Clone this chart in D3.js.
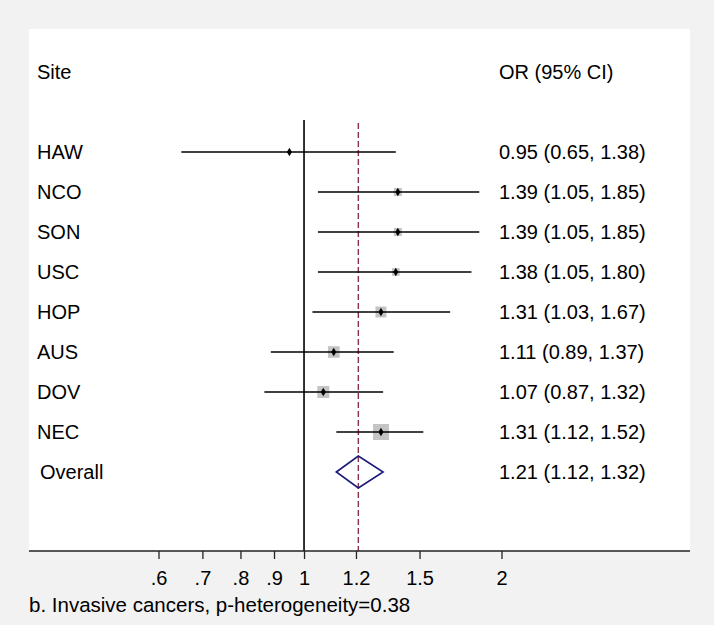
<!DOCTYPE html>
<head>
<meta charset="utf-8">
<style>
body { margin: 0; background: #f2f2f2; }
text { font-family: "Liberation Sans", Arial, sans-serif; font-size: 20px; fill: #000; }
.ci line { stroke: #000; stroke-width: 1.6px; }
.axis .tick line { stroke: #222; stroke-width: 1.3px; }
</style>
</head>
<body>
<div id="mainDiv"></div>
<script src="https://d3js.org/d3.v7.min.js"></script>
<script>

var width = 714;
var height = 625;

// study rows
var sites = ["HAW", "NCO", "SON", "USC", "HOP", "AUS", "DOV", "NEC"];
var orValues = [0.95, 1.39, 1.39, 1.38, 1.31, 1.11, 1.07, 1.31];
var lowerCI = [0.65, 1.05, 1.05, 1.05, 1.03, 0.89, 0.87, 1.12];
var upperCI = [1.38, 1.85, 1.85, 1.80, 1.67, 1.37, 1.32, 1.52];
var weights = [1.5, 7.5, 7.5, 7, 14, 16, 17, 30];   // % weight, drives box size

var overallLabel = "Overall";
var overallOR = 1.21;
var overallLower = 1.12;
var overallUpper = 1.32;

var tickValues = [0.6, 0.7, 0.8, 0.9, 1, 1.2, 1.5, 2];
var tickLabels = [".6", ".7", ".8", ".9", "1", "1.2", "1.5", "2"];

var caption = "b. Invasive cancers, p-heterogeneity=0.38";

var rows = sites.map(function(s, i) {
  return { site: s, or: orValues[i], lo: lowerCI[i], hi: upperCI[i], w: weights[i] };
});

function fmt(v) { return v.toFixed(2); }

var svg = d3.select("#mainDiv").append("svg")
    .attr("width", width)
    .attr("height", height);

// plot panel
var panel = { left: 29, right: 690, top: 29, bottom: 551 };

svg.append("rect")
    .attr("x", panel.left)
    .attr("y", panel.top)
    .attr("width", panel.right - panel.left)
    .attr("height", panel.bottom - panel.top)
    .attr("fill", "#fff");

var x = d3.scaleLog()
    .domain([0.6, 2])
    .range([158.5, 501.5]);

var y = d3.scalePoint()
    .domain(sites.concat([overallLabel]))
    .range([152, 472]);

var size = d3.scaleSqrt()
    .domain([0, 30])
    .range([0, 16]);

var lineTop = 120;

// null line at OR = 1
svg.append("line")
    .attr("x1", x(1)).attr("x2", x(1))
    .attr("y1", lineTop).attr("y2", panel.bottom)
    .attr("stroke", "#000")
    .attr("stroke-width", 1.6);

// overall estimate line
svg.append("line")
    .attr("x1", x(overallOR)).attr("x2", x(overallOR))
    .attr("y1", lineTop + 3).attr("y2", panel.bottom)
    .attr("stroke", "#8b3048")
    .attr("stroke-width", 1.4)
    .attr("stroke-dasharray", "6,3");

// weight boxes
svg.append("g").selectAll("rect")
    .data(rows)
    .enter().append("rect")
    .attr("x", function(d) { return x(d.or) - size(d.w) / 2; })
    .attr("y", function(d) { return y(d.site) - size(d.w) / 2; })
    .attr("width", function(d) { return size(d.w); })
    .attr("height", function(d) { return size(d.w); })
    .attr("fill", "#c4c4c4");

// CI lines
svg.append("g").attr("class", "ci").selectAll("line")
    .data(rows)
    .enter().append("line")
    .attr("x1", function(d) { return x(d.lo); })
    .attr("x2", function(d) { return x(d.hi); })
    .attr("y1", function(d) { return y(d.site); })
    .attr("y2", function(d) { return y(d.site); });

// point estimates
svg.append("g").selectAll("path")
    .data(rows)
    .enter().append("path")
    .attr("transform", function(d) { return "translate(" + x(d.or) + "," + y(d.site) + ")"; })
    .attr("d", d3.symbol().type(d3.symbolDiamond).size(22))
    .attr("fill", "#000");

// overall diamond
var yo = y(overallLabel);
svg.append("path")
    .attr("d", d3.line()([
      [x(overallLower), yo],
      [x(overallOR), yo - 16],
      [x(overallUpper), yo],
      [x(overallOR), yo + 16]
    ]) + "Z")
    .attr("fill", "none")
    .attr("stroke", "#1b1b7a")
    .attr("stroke-width", 1.6);

// headers
svg.append("text").attr("x", 37).attr("y", 79).text("Site");
svg.append("text").attr("x", 499).attr("y", 79).text("OR (95% CI)");

// site labels
svg.append("g").selectAll("text")
    .data(rows)
    .enter().append("text")
    .attr("x", 37)
    .attr("y", function(d) { return y(d.site) + 7; })
    .text(function(d) { return d.site; });

svg.append("text")
    .attr("x", 40)
    .attr("y", yo + 7)
    .text(overallLabel);

// OR (CI) column
svg.append("g").selectAll("text")
    .data(rows)
    .enter().append("text")
    .attr("x", 499)
    .attr("y", function(d) { return y(d.site) + 7; })
    .text(function(d) { return fmt(d.or) + " (" + fmt(d.lo) + ", " + fmt(d.hi) + ")"; });

svg.append("text")
    .attr("x", 499)
    .attr("y", yo + 7)
    .text(fmt(overallOR) + " (" + fmt(overallLower) + ", " + fmt(overallUpper) + ")");

// x axis
svg.append("line")
    .attr("x1", panel.left).attr("x2", panel.right)
    .attr("y1", panel.bottom).attr("y2", panel.bottom)
    .attr("stroke", "#222")
    .attr("stroke-width", 1.6);

var axis = svg.append("g")
    .attr("class", "axis")
    .attr("transform", "translate(0," + panel.bottom + ")")
    .call(d3.axisBottom(x)
      .tickValues(tickValues)
      .tickFormat(function(d, i) { return tickLabels[i]; })
      .tickSize(8)
      .tickPadding(12));

axis.select(".domain").remove();
axis.selectAll("text")
    .attr("fill", "#000")
    .style("font-size", "20px")
    .style("font-family", "'Liberation Sans', Arial, sans-serif");

svg.append("text")
    .attr("x", 29)
    .attr("y", 612)
    .style("font-size", "20.5px")
    .text(caption);

</script>
</body>
</html>
